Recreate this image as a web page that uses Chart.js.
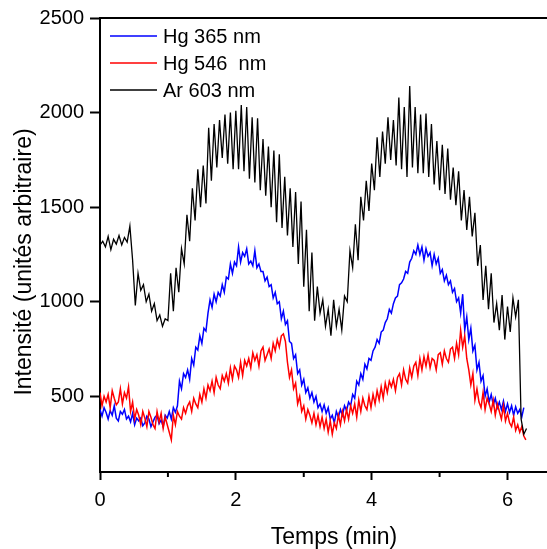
<!DOCTYPE html>
<html>
<head>
<meta charset="utf-8">
<script src="https://cdn.jsdelivr.net/npm/chart.js@4/dist/chart.umd.min.js"></script>
<style>
  html, body { margin: 0; padding: 0; background: #fff; overflow: hidden; }
  #wrap { width: 547px; height: 549px; overflow: hidden; }
  canvas { display: block; }
</style>
</head>
<body>
<div id="wrap"><canvas id="chart" width="570" height="549"></canvas></div>
<script>
/* Emission intensities vs time – Hg 365 / Hg 546 / Ar 603 */

// sampling steps (min) of the traces
const HG_STEP = 0.03;
const AR_STEP = 0.04;

const X_TICKS = [0, 1, 2, 3, 4, 5, 6];
const Y_TICKS = [500, 1000, 1500, 2000, 2500];
const LABELS = ['Hg 365 nm', 'Hg 546  nm', 'Ar 603 nm'];
const COLORS = ['#0000ff', '#ff0000', '#000000'];

const hg365 = [
  430,395,440,415,380,425,400,450,385,370,420,405,430,380,395,365,410,350,385,370,
  385,345,360,395,380,340,365,390,400,355,375,340,400,385,420,380,440,415,450,580,
  540,620,600,640,590,700,665,760,745,820,780,860,845,940,1010,970,1040,1000,1050,1030,
  1090,1050,1130,1120,1200,1150,1210,1190,1290,1210,1260,1240,1280,1200,1215,1190,1270,1180,1200,1160,
  1160,1110,1130,1080,1090,1020,1050,990,1000,910,950,880,900,790,780,700,720,620,640,560,
  590,520,545,490,520,470,500,440,460,420,455,410,440,380,400,360,420,390,430,400,
  450,425,470,450,510,490,580,560,620,590,670,645,700,690,740,760,800,780,840,850,
  890,910,960,940,990,1020,1030,1090,1100,1120,1160,1150,1210,1230,1270,1250,1300,1250,1290,1220,
  1280,1240,1260,1190,1250,1200,1230,1150,1170,1110,1140,1090,1110,1050,1070,1000,1020,940,1040,850,
  920,800,860,740,770,640,680,580,610,500,540,470,510,455,490,440,470,430,475,420,
  460,415,450,400,445,410,430,390,440
];

const hg546 = [
  520,450,500,470,510,440,530,490,455,470,540,460,520,490,550,420,470,380,430,400,
  350,420,385,340,420,390,350,330,420,365,410,330,390,350,310,270,400,350,420,395,
  380,440,410,450,470,420,490,460,440,510,470,540,490,560,530,580,520,600,560,540,
  610,580,620,570,650,590,660,640,600,680,610,690,660,700,650,730,690,720,660,740,
  760,690,720,750,700,780,740,800,760,820,830,790,680,600,640,540,570,460,500,420,
  450,380,430,400,360,410,350,400,340,390,330,380,310,370,300,360,330,400,350,420,
  370,430,380,450,410,460,390,480,420,490,450,430,500,440,510,460,530,480,550,490,
  570,520,580,550,590,530,600,620,560,640,590,570,650,600,660,680,610,700,640,710,
  660,720,650,700,690,640,720,730,670,740,700,680,750,760,700,780,720,850,760,820,
  700,640,560,620,480,540,470,440,520,430,490,460,420,480,400,460,420,380,450,370,
  410,360,340,390,320,350,310,340,290,270
];

const ar603 = [
  1300,1320,1290,1345,1275,1330,1305,1350,1300,1340,1315,1400,1220,980,1150,1060,1090,1000,1040,950,
  990,900,930,870,910,900,1150,950,1180,1050,1280,1200,1460,1320,1600,1430,1700,1500,1720,1520,
  1920,1640,1940,1710,1960,1760,1990,1730,2000,1700,2010,1700,2040,1690,2030,1650,1975,1630,1970,1590,
  1860,1560,1820,1500,1800,1420,1780,1390,1660,1350,1600,1290,1580,1200,1530,1080,1380,950,1260,900,
  1080,940,1010,870,960,820,1010,870,960,850,1030,1000,1270,1180,1410,1220,1555,1430,1640,1480,
  1730,1590,1870,1660,1900,1730,1975,1750,1960,1720,2080,1700,2030,1660,2140,1710,2030,1680,1990,1680,
  1995,1660,1940,1620,1850,1590,1830,1570,1810,1540,1710,1510,1690,1430,1590,1380,1555,1345,1470,1190,
  1300,1010,1190,960,1150,890,990,850,1036,800,975,840,1020,920,1010,380,300,330
];

const SERIES = [hg365, hg546, ar603];
const STEPS = [HG_STEP, HG_STEP, AR_STEP];
const ORDER = [2, 1, 0];

const FONT = 'Liberation Sans, Arial, sans-serif';

const datasets = SERIES.map((vals, k) => ({
  label: LABELS[k],
  data: vals.map((v, i) => ({ x: +(i * STEPS[k]).toFixed(3), y: v })),
  borderColor: COLORS[k],
  borderWidth: k === 2 ? 1.3 : 1.5,
  pointRadius: 0,
  tension: 0,
  order: ORDER[k]
}));

// titles, legend, top frame and short minor ticks
const decor = {
  id: 'decor',
  afterDraw(chart) {
    const { ctx, chartArea: a, scales } = chart;
    ctx.save();
    ctx.strokeStyle = '#000';
    ctx.lineWidth = 2;
    ctx.beginPath();
    ctx.moveTo(a.left - 1, a.top);
    ctx.lineTo(a.right, a.top);
    ctx.stroke();

    // minor x ticks
    X_TICKS.filter(v => v % 2).forEach(v => {
      const px = scales.x.getPixelForValue(v);
      ctx.beginPath();
      ctx.moveTo(px, a.bottom);
      ctx.lineTo(px, a.bottom + 5);
      ctx.stroke();
    });

    ctx.fillStyle = '#000';
    ctx.font = '23px ' + FONT;
    ctx.textAlign = 'center';
    ctx.textBaseline = 'alphabetic';
    ctx.fillText('Temps (min)', 334, 544);
    ctx.save();
    ctx.translate(31, 262);
    ctx.rotate(-Math.PI / 2);
    ctx.fillText('Intensité (unités arbitraire)', 0, 0);
    ctx.restore();

    // legend
    ctx.font = '20px ' + FONT;
    ctx.textAlign = 'left';
    ctx.textBaseline = 'middle';
    LABELS.forEach((t, k) => {
      const y = 36 + k * 27;
      ctx.strokeStyle = COLORS[k];
      ctx.lineWidth = 1.5;
      ctx.beginPath();
      ctx.moveTo(110, y);
      ctx.lineTo(157, y);
      ctx.stroke();
      ctx.fillText(t, 163, y + 1);
    });
    ctx.restore();
  }
};

new Chart(document.getElementById('chart'), {
  type: 'line',
  data: { datasets },
  plugins: [decor],
  options: {
    responsive: false,
    animation: false,
    events: [],
    layout: { padding: { top: 17, right: 0, bottom: 0, left: 0 } },
    plugins: { legend: { display: false }, tooltip: { enabled: false } },
    scales: {
      x: {
        type: 'linear',
        min: 0,
        max: 6.92,
        afterFit: s => { s.height = 77; },
        afterBuildTicks: s => { s.ticks = X_TICKS.map(v => ({ value: v })); },
        ticks: {
          callback: v => (v % 2 === 0 ? String(v) : ''),
          color: '#000',
          font: { family: FONT, size: 20 },
          padding: 8,
          maxRotation: 0,
          autoSkip: false
        },
        grid: {
          drawOnChartArea: false,
          tickLength: 8,
          tickWidth: 2,
          tickColor: c => (c.tick && c.tick.value % 2 ? 'rgba(0,0,0,0)' : '#000')
        },
        border: { color: '#000', width: 2 }
      },
      y: {
        min: 100,
        max: 2500,
        afterFit: s => { s.width = 100; },
        afterBuildTicks: s => { s.ticks = Y_TICKS.map(v => ({ value: v })); },
        ticks: {
          callback: v => String(v),
          color: '#000',
          font: { family: FONT, size: 20 },
          padding: 6
        },
        grid: {
          drawOnChartArea: false,
          tickLength: 10,
          tickWidth: 2,
          tickColor: '#000'
        },
        border: { color: '#000', width: 2 }
      }
    }
  }
});
</script>
</body>
</html>
